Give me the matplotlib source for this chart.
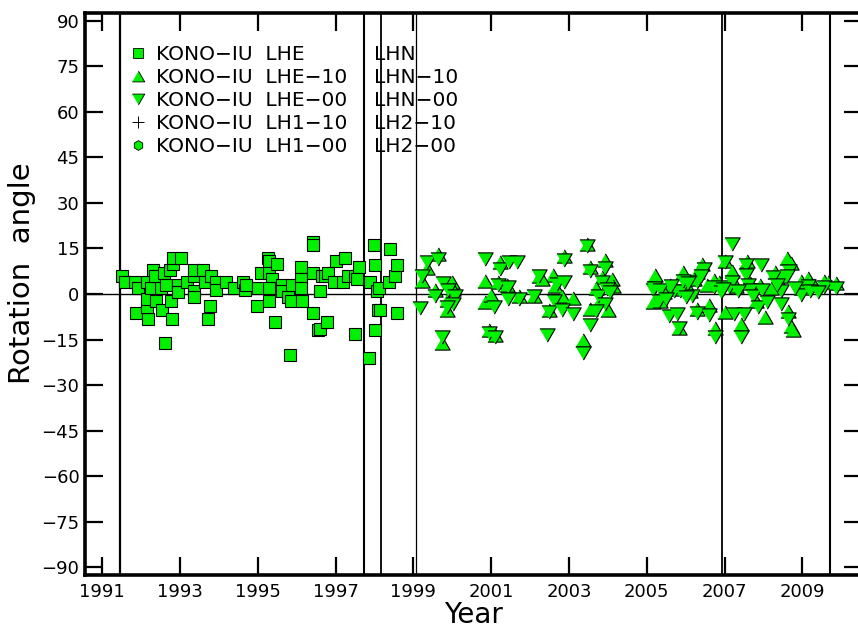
import numpy as np
import matplotlib
matplotlib.use("Agg")
import matplotlib.pyplot as plt
from matplotlib.lines import Line2D

# KONO-IU LHE / LHN (squares)
lhe_year = [1991.52, 1991.58, 1991.85, 1991.93, 1991.87, 1992.17, 1992.15, 1992.15, 1992.15, 1992.26,
            1992.30, 1992.36, 1992.38, 1992.52, 1992.53, 1992.59, 1992.62, 1992.65, 1992.75, 1992.77,
            1992.79, 1992.82, 1992.83, 1993.03, 1992.96, 1992.96, 1993.18, 1993.35, 1993.37, 1993.35,
            1993.37, 1993.58, 1993.65, 1993.72, 1993.78, 1993.80, 1993.92, 1993.93, 1994.19, 1994.39,
            1994.63, 1994.68, 1994.70, 1994.98, 1995.00, 1995.09, 1995.26, 1995.29, 1995.29, 1995.36,
            1995.30, 1995.29, 1995.49, 1995.45, 1995.62, 1995.63, 1995.77, 1995.83, 1995.85, 1995.89,
            1996.12, 1996.12, 1996.12, 1996.13, 1996.43, 1996.43, 1996.41, 1996.43, 1996.55, 1996.60,
            1996.77, 1996.60, 1996.66, 1996.73, 1996.80, 1996.95, 1997.01, 1997.23, 1997.18, 1997.33,
            1997.50, 1997.50, 1997.59, 1997.55, 1997.85, 1997.89, 1998.00, 1998.02, 1998.02, 1998.06,
            1998.10, 1998.13, 1998.11, 1998.40, 1998.38, 1998.53, 1998.57, 1998.57]
lhe_ang = [5.8, 4.0, 3.9, 2.0, -6.3, -8.2, -4.3, -1.6, 3.9, 2.0,
           8.0, 5.8, -2.4, 2.0, -5.2, 6.9, -16.2, 2.8, 8.0, -2.4,
           -8.2, 10.0, 11.9, 11.9, 2.8, 0.8, 3.9, 5.8, 8.0, 1.0,
           -1.0, 8.0, 3.9, -8.2, -4.1, 5.8, 3.9, 1.2, 3.9, 2.0,
           3.9, 1.2, 2.8, -4.1, 2.0, 6.9, 11.9, 10.8, 6.9, 5.0,
           2.0, -2.4, 10.0, -9.3, 2.8, 1.0, -1.0, -20.2, -2.4, 2.8,
           8.8, 5.0, 2.0, -2.4, 17.2, 16.0, -6.3, 6.9, -12.0, -11.5,
           -9.3, 0.9, 5.8, 5.8, 6.9, 3.9, 10.8, 11.9, 3.9, 5.8,
           5.8, -13.1, 8.8, 5.0, -21.0, 3.9, 16.0, 9.7, -12.0, 0.9,
           -5.2, -5.2, 2.0, 14.9, 3.9, 5.8, 9.7, -6.3]

# KONO-IU LHE-10 / LHN-10 (up triangles)
l10_year = [1999.22, 1999.36, 1999.63, 1999.56, 1999.98, 2000.03, 1999.86, 1999.86, 1999.74, 2000.85,
            2001.23, 2001.17, 2001.71, 2000.85, 2001.00, 2000.94, 2001.10, 2002.09, 2002.24, 2002.60,
            2002.64, 2002.86, 2002.81, 2003.11, 2002.48, 2003.46, 2003.53, 2003.54, 2003.37, 2003.93,
            2003.84, 2004.10, 2003.70, 2004.14, 2003.80, 2004.00, 2001.40, 2002.30,
            2005.16, 2005.22, 2005.35, 2005.60, 2005.82, 2005.94, 2005.98, 2006.30, 2006.43, 2006.30,
            2006.60, 2006.73, 2006.76, 2007.02, 2007.20, 2007.02, 2007.41, 2007.58, 2007.80, 2008.05,
            2008.30, 2008.38, 2008.60, 2008.70, 2008.62, 2008.70, 2008.75, 2008.96, 2008.96, 2009.15,
            2009.55, 2009.66, 2009.85, 2006.10, 2006.55, 2007.90, 2008.20,
            2005.45, 2005.70, 2006.20, 2006.85, 2007.30, 2007.65, 2008.45, 2009.30]
l10_ang = [4.2, 8.5, 13.2, 1.2, 3.9, 1.7, -2.1, -5.4, -16.2, 4.4,
           10.5, 3.9, -0.5, -2.7, -0.2, -12.0, -13.6, -0.5, 5.8, 6.1,
           2.5, 12.6, -0.5, -1.4, -5.3, 16.5, 9.0, -5.1, -15.1, 11.3,
           5.7, 5.1, 2.0, 2.5, -2.1, -5.2, 3.0, 5.0,
           -2.7, 6.1, -2.2, 3.1, -11.2, 7.2, 2.2, 7.2, 10.0, -5.1,
           -3.5, 4.5, -11.2, 10.9, 7.7, -5.9, -9.8, 11.0, -2.2, -7.7,
           7.2, 4.7, 11.7, 10.3, -5.6, -10.4, -12.0, 4.3, 2.1, 5.4,
           4.4, 3.8, 3.5, 1.0, 3.0, 3.0, 2.0,
           0.5, 1.5, 5.0, 4.0, 2.5, 3.5, 6.0, 3.0]

# KONO-IU LHE-00 / LHN-00 (down triangles)
l00_year = [1999.22, 1999.17, 1999.36, 1999.63, 1999.56, 1999.77, 1999.90, 2000.07, 2000.03, 1999.86,
            1999.74, 2000.85, 2001.23, 2001.45, 2001.66, 2001.17, 2001.42, 2001.71, 2001.42, 2001.06,
            2000.94, 2001.10, 2002.09, 2002.24, 2002.70, 2002.86, 2002.86, 2002.61, 2002.48, 2002.81,
            2003.11, 2002.44, 2003.46, 2003.53, 2003.54, 2003.37, 2003.93, 2003.84, 2003.75, 2003.97,
            2003.93, 2003.70, 2004.05,
            2005.16, 2005.18, 2005.35, 2005.30, 2005.56, 2005.78, 2005.82, 2005.69, 2005.86, 2005.94,
            2006.15, 2006.47, 2006.30, 2006.30, 2006.60, 2006.73, 2006.76, 2007.02, 2007.20, 2007.10,
            2007.20, 2007.23, 2007.41, 2007.55, 2007.55, 2007.60, 2007.65, 2007.73, 2007.50, 2007.85,
            2007.93, 2007.97, 2008.10, 2008.25, 2008.45, 2008.46, 2008.65, 2008.60, 2008.62, 2008.96,
            2009.15, 2009.55, 2009.20, 2009.40, 2009.85, 2006.00, 2006.90,
            2005.50, 2005.62, 2006.05, 2006.40, 2006.95, 2007.35, 2008.35, 2008.80]
l00_ang = [5.8, -4.5, 10.5, 11.6, -0.5, 3.6, 1.2, -0.5, -3.2, -4.3,
           -14.2, 11.6, 8.3, 10.5, 10.5, 3.0, 2.2, -1.6, -1.6, -4.4,
           -13.0, -14.3, -0.5, 5.8, 3.3, 3.8, 11.2, -2.2, -6.0, -5.4,
           -6.6, -13.6, 15.7, 7.7, -10.2, -19.5, 8.6, 4.0, -0.5, 1.8,
           -3.3, -5.6, 0.5,
           1.2, 1.9, 1.3, -2.2, -7.1, -6.6, -11.2, 0.9, 0.9, 4.4,
           -0.7, 8.3, 4.0, -6.2, -6.8, 2.4, -14.2, 10.4, 16.5, 2.2,
           3.9, -6.6, -14.3, 9.4, 6.2, 2.8, 1.2, -0.6, -6.6, -4.4,
           9.4, 1.2, -2.6, 5.6, 1.1, -3.2, 7.7, 6.0, -8.3, -0.3,
           2.5, 2.4, 1.0, 0.5, 2.0, -1.0, 0.5,
           -1.5, 2.5, 3.5, 6.0, 1.5, 1.0, 3.0, 2.0]

# vertical reference lines (years)
event_years = [1991.46, 1997.72, 1998.16, 1999.07, 2006.93, 2009.71]

xticks = list(range(1991, 2010, 2))
yticks = list(range(-90, 91, 15))

legend_left = ["KONO\u2212IU  LHE", "KONO\u2212IU  LHE\u221210", "KONO\u2212IU  LHE\u221200",
               "KONO\u2212IU  LH1\u221210", "KONO\u2212IU  LH1\u221200"]
legend_right = ["LHN", "LHN\u221210", "LHN\u221200", "LH2\u221210", "LH2\u221200"]

green = "#00f000"
tri_up = [(-1, -0.866), (1, -0.866), (0, 0.866)]
tri_dn = [(-1, 0.866), (1, 0.866), (0, -0.866)]

fig = plt.figure(figsize=(8.58, 6.28), dpi=100)
ax = fig.add_axes([0.0991, 0.0844, 0.906, 0.8949])

for yr, lw in zip(event_years, [1.6, 1.5, 1.3, 0.9, 1.3, 1.5]):
    ax.axvline(yr, color="black", lw=lw, zorder=1)
ax.axhline(0, color="black", lw=1.0, zorder=1)

ax.plot(lhe_year, lhe_ang, ls="none", marker="s", ms=8, mfc=green, mec="black", mew=0.8, zorder=3)
ax.plot(l10_year, l10_ang, ls="none", marker=tri_up, ms=11, mfc=green, mec="black", mew=0.8, zorder=3)
ax.plot(l00_year, l00_ang, ls="none", marker=tri_dn, ms=11, mfc=green, mec="black", mew=0.8, zorder=3)

ax.set_xlim(1990.56, 2010.54)
ax.set_ylim(-92.5, 92.5)
ax.set_xticks(xticks)
ax.set_xticklabels([str(x) for x in xticks])
ax.set_yticks(yticks)
ax.set_yticklabels([str(y).replace("-", "\u2212") for y in yticks])
ax.tick_params(axis="both", direction="in", length=13, width=1.6, labelsize=13,
               top=True, right=True)
ax.tick_params(axis="x", pad=6)
ax.tick_params(axis="y", pad=4)
for side in ["left", "bottom", "top", "right"]:
    ax.spines[side].set_linewidth(2.6)

ax.set_xlabel("Year", fontsize=20, labelpad=0)
ax.set_ylabel("Rotation  angle", fontsize=21)
ax.yaxis.set_label_coords(-0.063, 0.537)

handles = [
    Line2D([], [], ls="none", marker="s", ms=6.5, mfc=green, mec="black", mew=0.6),
    Line2D([], [], ls="none", marker=tri_up, ms=9, mfc=green, mec="black", mew=0.6),
    Line2D([], [], ls="none", marker=tri_dn, ms=9, mfc=green, mec="black", mew=0.6),
    Line2D([], [], ls="none", marker="+", ms=8, color="black", mew=0.7),
    Line2D([], [], ls="none", marker="h", ms=7, mfc=green, mec="black", mew=0.6),
]
leg = ax.legend(handles, legend_left, loc="upper left", bbox_to_anchor=(0.047, 0.958),
                frameon=False, fontsize=14.5, handlelength=0.8, handletextpad=0.5,
                labelspacing=0.2, borderaxespad=0)

fig.canvas.draw()
renderer = fig.canvas.get_renderer()
for txt, right in zip(leg.get_texts(), legend_right):
    bb = txt.get_window_extent(renderer)
    yc = (bb.y0 + bb.y1) / 2
    y_ax = ax.transAxes.inverted().transform((0, yc))[1]
    ax.text(0.372, y_ax, right, transform=ax.transAxes, fontsize=14.5, va="center", ha="left")

fig.savefig("out.png", dpi=100)
